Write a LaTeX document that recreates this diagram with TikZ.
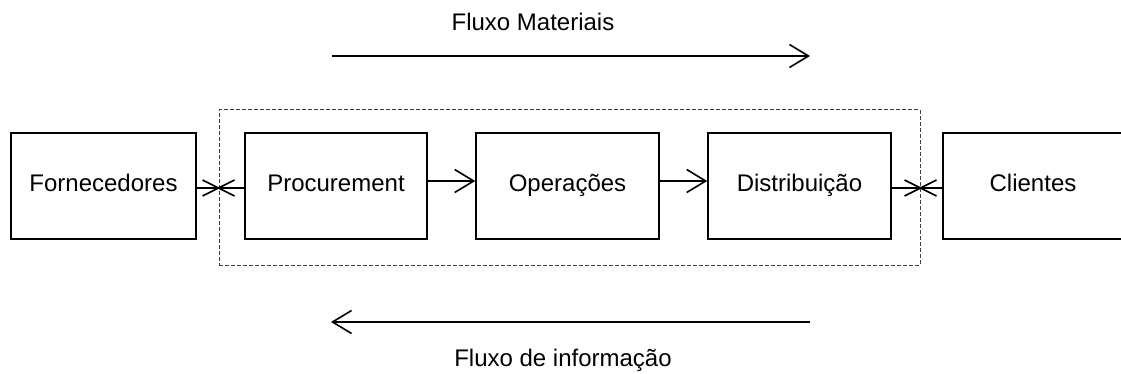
\documentclass[tikz,border=0pt]{standalone}
\usepackage{fontspec}
\setmainfont{Liberation Sans}
\usetikzlibrary{arrows.meta,calc}
\begin{document}
\begin{tikzpicture}[x=1pt,y=-1pt,
  every node/.style={font=\fontsize{24}{28}\selectfont,text height=17pt,text depth=5pt},
  stage/.style={draw,line width=1.5pt,minimum height=106pt,inner sep=0pt},
  flow/.style={line width=1.6pt,-{Straight Barb[length=19pt,width=23pt,line width=1.6pt]}},
  link/.style={line width=1.6pt},
  cross/.style={line width=1.6pt},
  frame/.style={draw=black!75,line width=1pt,dash pattern=on 4pt off 2pt,inner sep=0pt}
]
\useasboundingbox (0,0) rectangle (1121,374);

% dashed boundary of the company
\node[frame,minimum width=701pt,minimum height=155pt] (frame) at (569.5,187.5) {};

% supply chain stages (the customer box runs past the right margin)
\node[stage,minimum width=185pt] (forn) at (103.5,186) {Fornecedores};
\node[stage,minimum width=182pt] (proc) at (336,186) {Procurement};
\node[stage,minimum width=183pt] (oper) at (567.5,186) {Operações};
\node[stage,minimum width=183pt] (dist) at (799.5,186) {Distribuição};
\node[stage,minimum width=240pt] (cli) at (1063,186) {\hspace*{-60pt}Clientes};

% internal material flow
\draw[flow] ([yshift=5pt]proc.east) -- ([yshift=5pt]oper.west);
\draw[flow] ([yshift=5pt]oper.east) -- ([yshift=5pt]dist.west);

% links crossing the company boundary
\coordinate (xl) at ([yshift=-2pt]forn.east -| frame.west);
\coordinate (xr) at ([yshift=-2pt]dist.east -| frame.east);
\draw[link] ([yshift=-2pt]forn.east) -- ([yshift=-2pt]proc.west);
\draw[link] ([yshift=-2pt]dist.east) -- ([yshift=-2pt]cli.west);
\draw[cross] ($(xl)+(-16,-8)$) -- ($(xl)+(16,8)$);
\draw[cross] ($(xl)+(-16,8)$) -- ($(xl)+(16,-8)$);
\draw[cross] ($(xr)+(-16,-8)$) -- ($(xr)+(16,8)$);
\draw[cross] ($(xr)+(-16,8)$) -- ($(xr)+(16,-8)$);

% overall flows
\node (tmat) at (533,25) {Fluxo Materiais};
\coordinate (m1) at (332,56);
\coordinate (m2) at (810,56);
\draw[flow] (m1) -- (m2);

\node (tinf) at (563,360) {Fluxo de informação};
\coordinate (i1) at (810,322);
\coordinate (i2) at (331,322);
\draw[flow] (i1) -- (i2);
\end{tikzpicture}
\end{document}
